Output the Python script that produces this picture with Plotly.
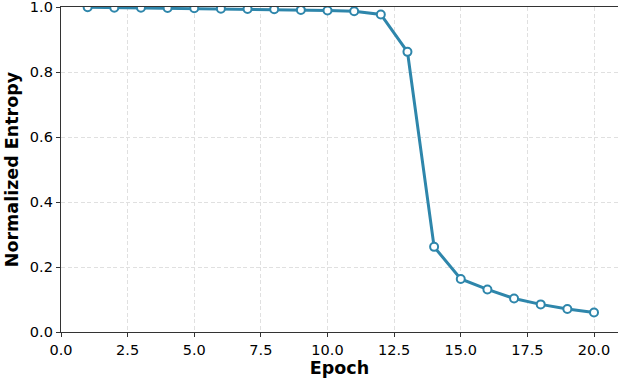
import plotly.graph_objects as go

epochs = list(range(1, 21))
entropy = [0.999, 0.998, 0.998, 0.997, 0.996, 0.995, 0.994, 0.993, 0.991, 0.989,
           0.987, 0.977, 0.862, 0.262, 0.163, 0.131, 0.103, 0.085, 0.071, 0.060]
x_ticks = [0, 2.5, 5, 7.5, 10, 12.5, 15, 17.5, 20]
y_ticks = [0, 0.2, 0.4, 0.6, 0.8, 1.0]

color = "#2E86AB"
fig = go.Figure()
fig.add_trace(go.Scatter(
    x=epochs, y=entropy, mode="lines+markers",
    line=dict(color=color, width=3),
    marker=dict(size=8, color="white", line=dict(color=color, width=2)),
    showlegend=False, cliponaxis=True, hoverinfo="skip",
))
font = "DejaVu Sans, sans-serif"
grid_dash = "4px,2.5px"
fig.update_layout(
    width=618, height=381,
    margin=dict(l=61, r=0, t=7, b=49),
    plot_bgcolor="white", paper_bgcolor="white",
    font=dict(family=font, size=14, color="black"),
    xaxis=dict(
        range=[0, 20.9], tickvals=x_ticks, tickformat=".1f",
        showline=True, linecolor="#333333", linewidth=1.2, mirror=True,
        ticks="outside", ticklen=4, tickcolor="#333333",
        tickfont=dict(size=14.5), ticklabeloverflow="allow",
        showgrid=True, gridcolor="#e0e0e0", griddash=grid_dash, gridwidth=1,
        zeroline=False, automargin=False,
        title=dict(text="<b>Epoch</b>", font=dict(size=17.5), standoff=4),
    ),
    yaxis=dict(
        range=[0, 1.0], tickvals=y_ticks, tickformat=".1f",
        showline=True, linecolor="#333333", linewidth=1.2,
        ticks="outside", ticklen=4, tickcolor="#333333",
        tickfont=dict(size=14.5), ticklabeloverflow="allow",
        showgrid=True, gridcolor="#e0e0e0", griddash=grid_dash, gridwidth=1,
        zeroline=False, automargin=False,
        title=dict(text="<b>Normalized Entropy</b>", font=dict(size=17.5), standoff=6),
    ),
)
fig.write_html("out.html", config={"displayModeBar": False, "staticPlot": True})

with open("out.html", "r", encoding="utf-8") as f:
    html = f.read()
html = html.replace("<head>", "<head><style>html,body{margin:0;padding:0;overflow:hidden;}</style>", 1)
with open("out.html", "w", encoding="utf-8") as f:
    f.write(html)
